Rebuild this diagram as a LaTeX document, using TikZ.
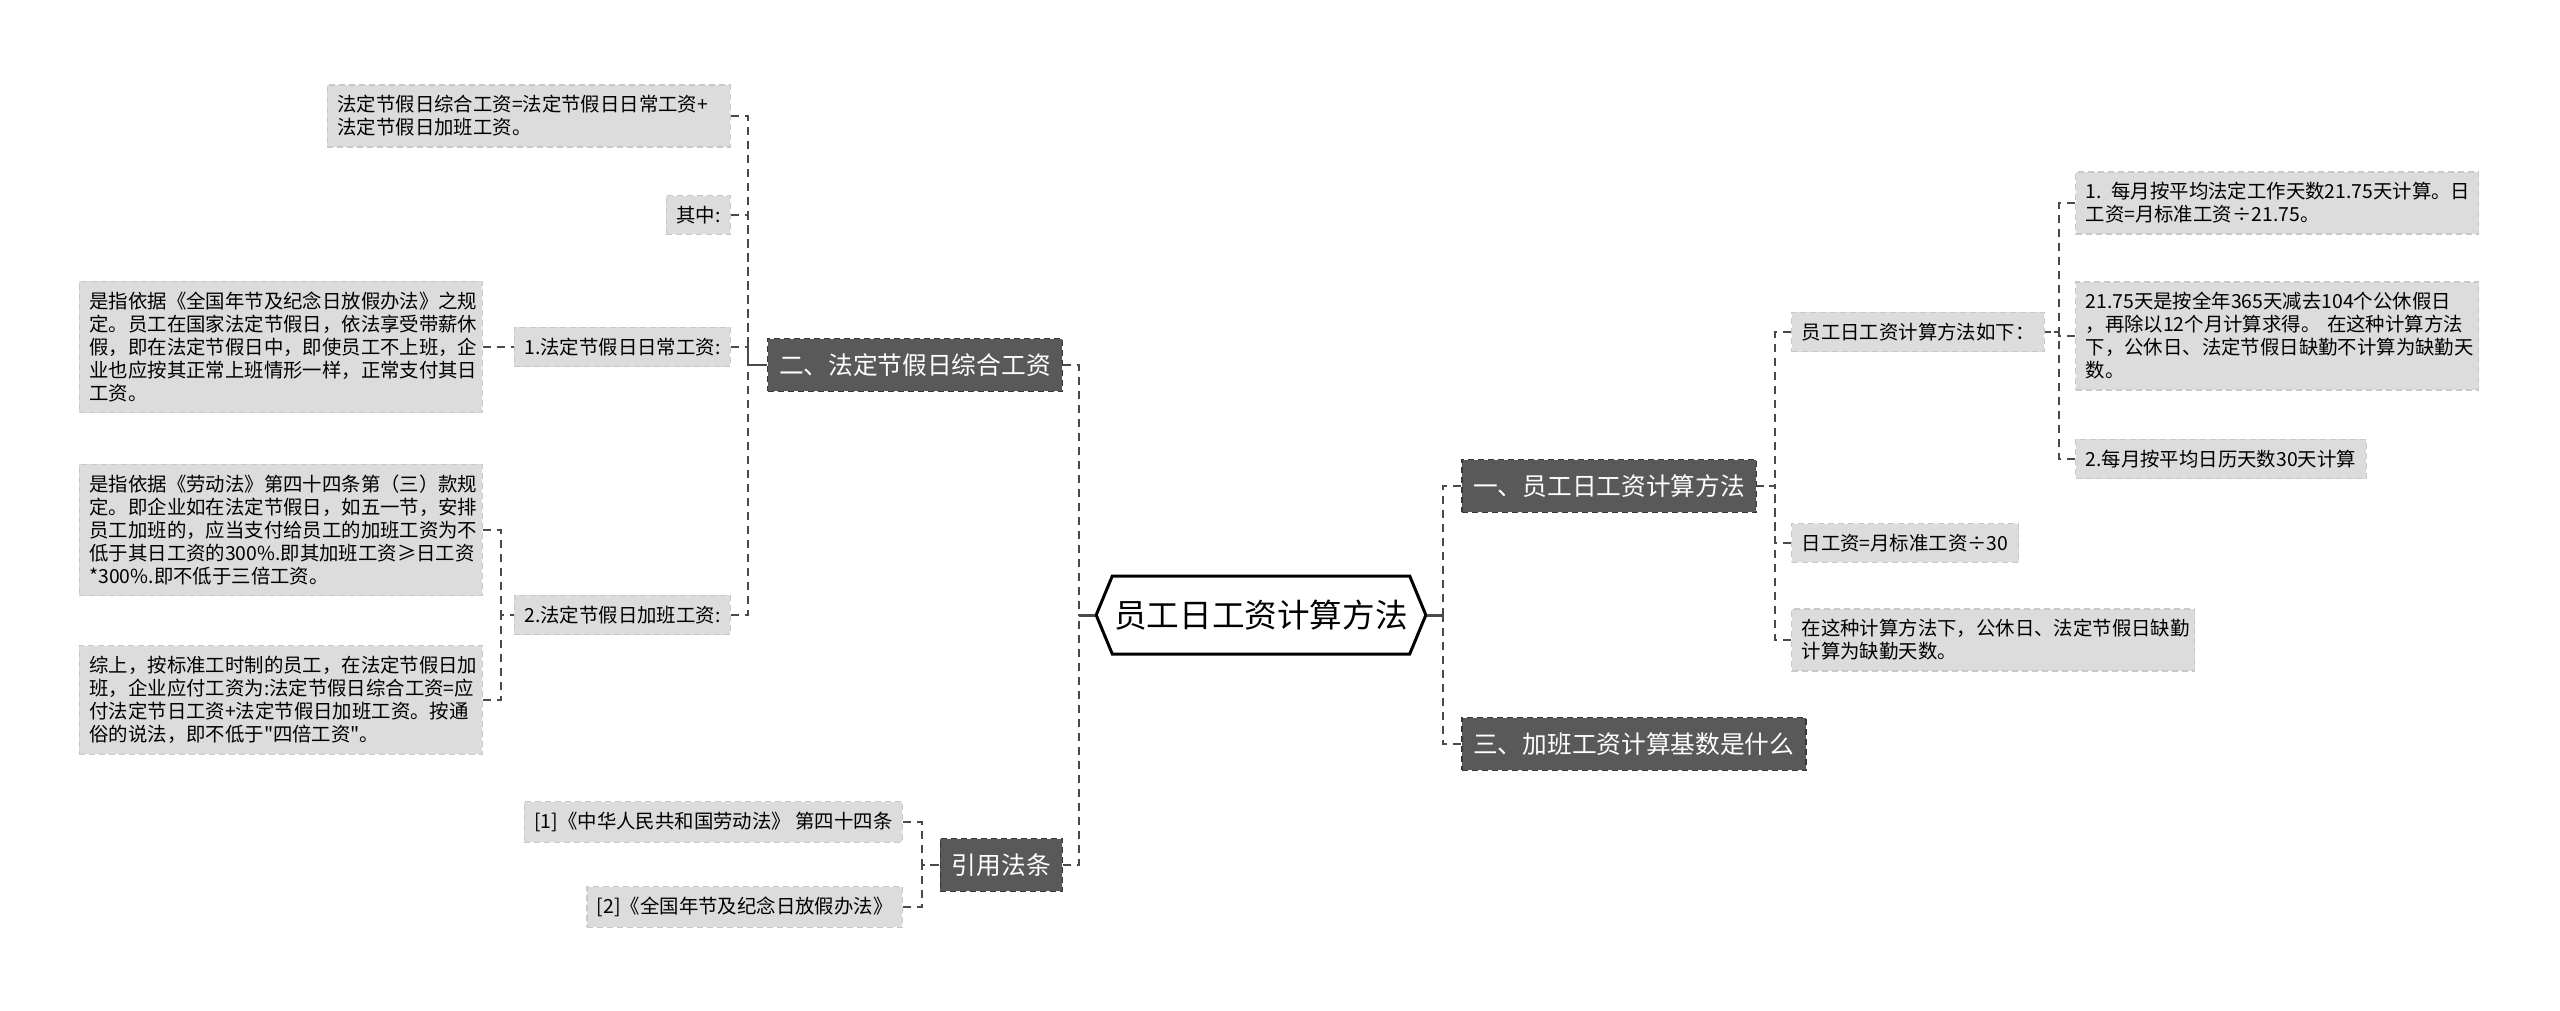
\documentclass[tikz,border=0pt]{standalone}
\usepackage{fontspec}
\newfontfamily\cjk{Noto Sans CJK SC}
\usetikzlibrary{shapes.symbols}
\definecolor{leafgray}{HTML}{DCDCDC}
\definecolor{leafedge}{HTML}{C8C8C8}
\definecolor{topicgray}{HTML}{595959}
\definecolor{topicedge}{HTML}{383838}
\definecolor{linkgray}{HTML}{4A4A4A}
\begin{document}
\begin{tikzpicture}[x=1pt,y=-1pt,
  leaf/.style={fill=leafgray,draw=leafedge,line width=1.2pt,dash pattern=on 6pt off 4pt,
    inner xsep=10pt,inner ysep=10.5pt,align=left,font=\cjk\fontsize{19.4}{23}\selectfont},
  wide/.style={leaf,text width=383pt},
  topic/.style={fill=topicgray,draw=topicedge,line width=1.5pt,dash pattern=on 6pt off 4pt,
    text=white,inner xsep=11.5pt,inner ysep=15pt,font=\cjk\fontsize{24.7}{30}\selectfont},
  link/.style={draw=linkgray,line width=2pt,dash pattern=on 8pt off 6pt},
  stub/.style={draw=linkgray,line width=3pt}]
\path[use as bounding box] (0,0) rectangle (2560,1011);

% trunk positions
\coordinate (lt) at (1079,0);
\coordinate (rt) at (1443,0);
\coordinate (l2v) at (748,0);
\coordinate (l2dv) at (501,0);
\coordinate (citev) at (922,0);
\coordinate (r1v) at (1775,0);
\coordinate (r1av) at (2059,0);

% root
\node[signal,signal to=west and east,signal pointer angle=135,draw=black,fill=white,
  line width=3pt,inner xsep=2pt,minimum height=78pt,
  font=\cjk\fontsize{32.6}{38}\selectfont] (root) at (1261,615) {员工日工资计算方法};

% main topics
\node[topic,anchor=west] (r1) at (1461,486) {一、员工日工资计算方法};
\node[topic,anchor=west] (r3) at (1461,744) {三、加班工资计算基数是什么};
\node[topic,anchor=east] (l2) at (1063,365) {二、法定节假日综合工资};
\node[topic,anchor=east] (cite) at (1063,865) {引用法条};

% right side
\node[leaf,anchor=west] (r1a) at (1791,332) {员工日工资计算方法如下：};
\node[leaf,anchor=west] (r1b) at (1791,543) {日工资=月标准工资÷30};
\node[wide,anchor=west] (r1c) at (1791,640) {在这种计算方法下，公休日、法定节假日缺勤\\计算为缺勤天数。};
\node[wide,anchor=west] (r1a1) at (2075,203) {1. 每月按平均法定工作天数21.75天计算。日\\工资=月标准工资÷21.75。};
\node[wide,anchor=west] (r1a2) at (2075,336) {21.75天是按全年365天减去104个公休假日\\，再除以12个月计算求得。 在这种计算方法\\下，公休日、法定节假日缺勤不计算为缺勤天\\数。};
\node[leaf,anchor=west] (r1a3) at (2075,459) {2.每月按平均日历天数30天计算};

% left side
\node[wide,anchor=east] (l2a) at (731,116) {法定节假日综合工资=法定节假日日常工资+\\法定节假日加班工资。};
\node[leaf,anchor=east] (l2b) at (731,215) {其中:};
\node[leaf,anchor=east] (l2c) at (731,347) {1.法定节假日日常工资:};
\node[leaf,anchor=east] (l2d) at (731,615) {2.法定节假日加班工资:};
\node[wide,anchor=east] (l2c1) at (483,347) {是指依据《全国年节及纪念日放假办法》之规\\定。员工在国家法定节假日，依法享受带薪休\\假，即在法定节假日中，即使员工不上班，企\\业也应按其正常上班情形一样，正常支付其日\\工资。};
\node[wide,anchor=east] (l2d1) at (483,530) {是指依据《劳动法》第四十四条第（三）款规\\定。即企业如在法定节假日，如五一节，安排\\员工加班的，应当支付给员工的加班工资为不\\低于其日工资的300\%.即其加班工资≥日工资\\{}*300\%.即不低于三倍工资。};
\node[wide,anchor=east] (l2d2) at (483,700) {综上，按标准工时制的员工，在法定节假日加\\班，企业应付工资为:法定节假日综合工资=应\\付法定节日工资+法定节假日加班工资。按通\\俗的说法，即不低于"四倍工资"。};
\node[leaf,anchor=east] (cite1) at (903,822) {[1]《中华人民共和国劳动法》 第四十四条};
\node[leaf,anchor=east] (cite2) at (903,907) {[2]《全国年节及纪念日放假办法》};

% connectors
\foreach \n in {l2,cite}
  \draw[link] (\n.east) -- (\n.east -| lt) |- (root.west);
\foreach \n in {r1,r3}
  \draw[link] (\n.west) -- (\n.west -| rt) |- (root.east);
\draw[stub] (root.west) -- (root.west -| lt);
\draw[stub] (root.east) -- (root.east -| rt);
\foreach \n in {l2a,l2b,l2c,l2d}
  \draw[link] (\n.east) -- (\n.east -| l2v) |- (l2.west);
\draw[link] (l2c1.east) -- (l2c.west);
\foreach \n in {l2d1,l2d2}
  \draw[link] (\n.east) -- (\n.east -| l2dv) |- (l2d.west);
\foreach \n in {cite1,cite2}
  \draw[link] (\n.east) -- (\n.east -| citev) |- (cite.west);
\foreach \n in {r1a,r1b,r1c}
  \draw[link] (\n.west) -- (\n.west -| r1v) |- (r1.east);
\foreach \n in {r1a1,r1a2,r1a3}
  \draw[link] (\n.west) -- (\n.west -| r1av) |- (r1a.east);
\end{tikzpicture}
\end{document}
